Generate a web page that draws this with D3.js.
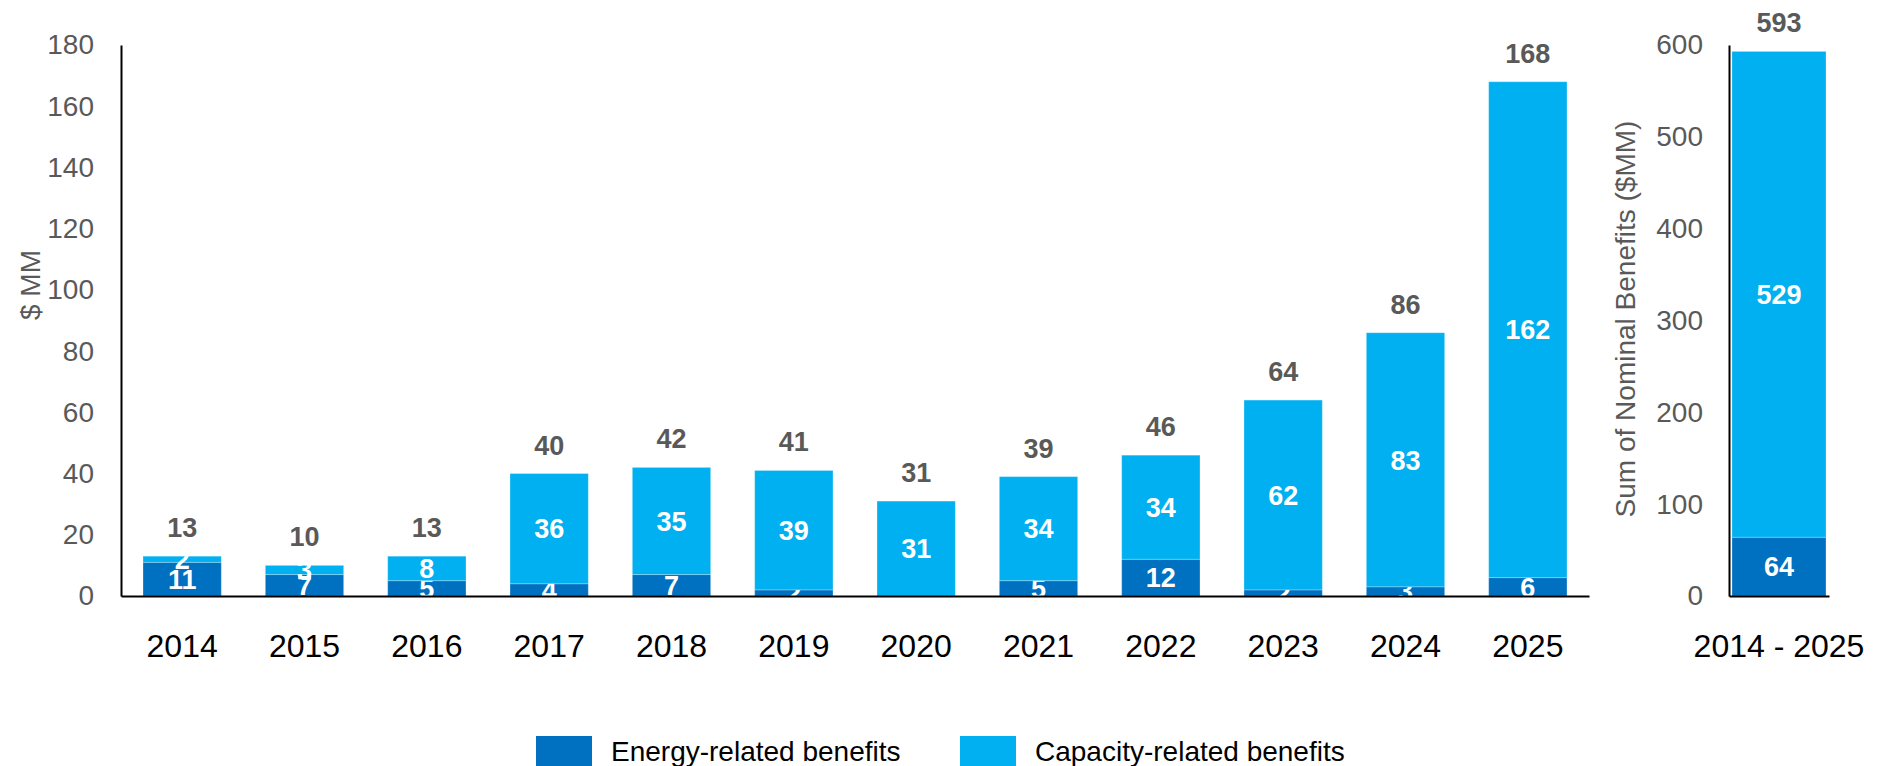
<!DOCTYPE html>
<html>
<head>
<meta charset="utf-8">
<script src="https://cdn.jsdelivr.net/npm/d3@7"></script>
<style>
  body { margin: 0; background: #fff; }
  svg { display: block; font-family: Arial, "Liberation Sans", sans-serif; }
</style>
</head>
<body>
<div id="chart"></div>
<script>
// data ($MM)
var years = ["2014","2015","2016","2017","2018","2019","2020","2021","2022","2023","2024","2025"];
var energy = [11, 7, 5, 4, 7, 2, 0, 5, 12, 2, 3, 6];
var capacity = [2, 3, 8, 36, 35, 39, 31, 34, 34, 62, 83, 162];
var totals = [13, 10, 13, 40, 42, 41, 31, 39, 46, 64, 86, 168];
var sumLabel = ["2014 - 2025"];
var sumEnergy = [64];
var sumCapacity = [529];
var sumTotal = [593];
var leftTicks = [0, 20, 40, 60, 80, 100, 120, 140, 160, 180];
var rightTicks = [0, 100, 200, 300, 400, 500, 600];
var seriesNames = ["Energy-related benefits", "Capacity-related benefits"];
var colors = ["#0070C0", "#00B0F0"];

var width = 1880, height = 766;
var svg = d3.select("#chart").append("svg")
  .attr("width", width)
  .attr("height", height);

var keys = ["energy", "capacity"];
var rows = years.map(function(y, i){ return {cat: y, energy: energy[i], capacity: capacity[i], total: totals[i]}; });
var sumRows = sumLabel.map(function(y, i){ return {cat: y, energy: sumEnergy[i], capacity: sumCapacity[i], total: sumTotal[i]}; });

function drawPanel(data, x, y, ticks, tickPad)
{
  var g = svg.append("g");
  var stacked = d3.stack().keys(keys)(data);

  var layer = g.selectAll("g.layer")
    .data(stacked)
    .enter().append("g")
    .attr("class", "layer")
    .attr("fill", function(d, i){ return colors[i]; });

  layer.selectAll("rect")
    .data(function(d){ return d; })
    .enter().append("rect")
    .attr("x", function(d){ return x(d.data.cat); })
    .attr("width", x.bandwidth())
    .attr("y", function(d){ return y(d[1]); })
    .attr("height", function(d){ return y(d[0]) - y(d[1]); })
    .attr("stroke", "rgba(255,255,255,0.25)")
    .attr("stroke-width", 1);

  // white labels in the middle of each segment
  layer.selectAll("text")
    .data(function(d){ return d.filter(function(s){ return s[1] - s[0] > 0; }); })
    .enter().append("text")
    .attr("x", function(d){ return x(d.data.cat) + x.bandwidth()/2; })
    .attr("y", function(d){ return y((d[0] + d[1]) / 2); })
    .attr("dy", "0.36em")
    .attr("text-anchor", "middle")
    .style("fill", "#fff")
    .style("font-weight", "bold")
    .style("font-size", "27px")
    .text(function(d){ return d[1] - d[0]; });

  // totals above bars
  g.selectAll("text.total")
    .data(data)
    .enter().append("text")
    .attr("class", "total")
    .attr("x", function(d){ return x(d.cat) + x.bandwidth()/2; })
    .attr("y", function(d){ return y(d.total) - 19; })
    .attr("text-anchor", "middle")
    .style("fill", "#595959")
    .style("font-weight", "bold")
    .style("font-size", "27px")
    .text(function(d){ return d.total; });

  var ya = g.append("g")
    .attr("transform", "translate(" + x.range()[0] + ",0)")
    .call(d3.axisLeft(y).tickValues(ticks).tickSize(0).tickPadding(tickPad));
  ya.select(".domain").attr("stroke", "#000").attr("stroke-width", 2);
  ya.selectAll("text").style("fill", "#595959").style("font-size", "28px").style("font-family", "Arial, 'Liberation Sans', sans-serif");

  var xa = g.append("g")
    .attr("transform", "translate(0," + y(0) + ")")
    .call(d3.axisBottom(x).tickSize(0).tickPadding(38));
  xa.select(".domain").attr("stroke", "#000").attr("stroke-width", 2);
  xa.selectAll("text").style("fill", "#000").style("font-size", "32px").style("font-family", "Arial, 'Liberation Sans', sans-serif");
}

var xLeft = d3.scaleBand().domain(years).range([121, 1589]).paddingInner(0.36).paddingOuter(0.18);
var yLeft = d3.scaleLinear().domain([0, 180]).range([596, 45]);
drawPanel(rows, xLeft, yLeft, leftTicks, 27);

var xRight = d3.scaleBand().domain(sumLabel).range([1729, 1829]).paddingInner(0.06).paddingOuter(0.03);
var yRight = d3.scaleLinear().domain([0, 600]).range([596, 45]);
drawPanel(sumRows, xRight, yRight, rightTicks, 26);

// axis titles
svg.append("text")
  .attr("transform", "translate(40,285) rotate(-90)")
  .attr("text-anchor", "middle")
  .style("fill", "#595959")
  .style("font-size", "28px")
  .text("$ MM");

svg.append("text")
  .attr("transform", "translate(1635,319) rotate(-90)")
  .attr("text-anchor", "middle")
  .style("fill", "#595959")
  .style("font-size", "28px")
  .text("Sum of Nominal Benefits ($MM)");

// legend
var legendX = [536, 960];
var legend = svg.selectAll("g.legend")
  .data(seriesNames)
  .enter().append("g")
  .attr("class", "legend")
  .attr("transform", function(d, i){ return "translate(" + legendX[i] + ",736)"; });
legend.append("rect")
  .attr("width", 56)
  .attr("height", 31)
  .attr("fill", function(d, i){ return colors[i]; });
legend.append("text")
  .attr("x", 75)
  .attr("y", 25)
  .style("fill", "#000")
  .style("font-size", "28px")
  .text(function(d){ return d; });
</script>
</body>
</html>
